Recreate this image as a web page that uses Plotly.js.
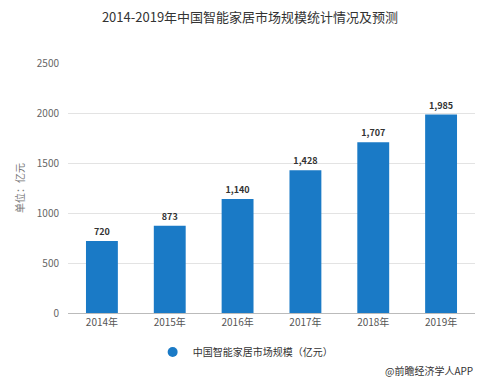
<!DOCTYPE html>
<html><head><meta charset="utf-8">
<script src="https://cdn.plot.ly/plotly-3.0.1.min.js"></script>
<style>body{margin:0;background:#fff}#c{width:500px;height:381px}</style>
</head><body><div id="c"></div>
<script>
const years = ["2014年","2015年","2016年","2017年","2018年","2019年"];
const marketSize = [720, 873, 1140, 1428, 1707, 1985];
const seriesName = "中国智能家居市场规模（亿元）";
const titleText = "2014-2019年中国智能家居市场规模统计情况及预测";
const yTitle = "单位：亿元";
const footer = "@前瞻经济学人APP";
const barColor = "#1a7ac6";
const F = "Noto Sans CJK SC, Microsoft YaHei, sans-serif";

const traces = [
  {type:"bar", x:years, y:marketSize, marker:{color:barColor}, showlegend:false,
   texttemplate:"%{y:,}", textposition:"outside", cliponaxis:false,
   textfont:{family:F, size:9, color:"#333", weight:"bold"}, hoverinfo:"none"},
  {type:"scatter", mode:"markers", x:[years[0]], y:[null], name:seriesName,
   marker:{color:barColor, size:10, symbol:"circle"}, showlegend:true}
];
const layout = {
  width:500, height:381,
  margin:{l:68, r:25, t:63, b:68},
  paper_bgcolor:"#fff", plot_bgcolor:"#fff",
  font:{family:F, color:"#666", size:10},
  title:{text:titleText, x:0.5, xanchor:"center", y:0.955, yanchor:"middle",
         font:{family:F, size:13, color:"#333"}},
  bargap:0.53,
  xaxis:{type:"category", showgrid:false, showline:true, linecolor:"#bbb", linewidth:1,
         ticks:"outside", ticklen:0, tickfont:{size:10, color:"#555"}, fixedrange:true},
  yaxis:{range:[0,2500], tick0:0, dtick:500, showgrid:true, gridcolor:"#e3e3e3",
         zeroline:false, showline:false, ticks:"", tickfont:{size:10, color:"#666"},
         ticklabelstandoff:8,
         title:{text:yTitle, font:{size:10, color:"#777"}, standoff:10}},
  legend:{orientation:"h", x:0.208, xanchor:"left", y:-0.156, yanchor:"middle",
          font:{size:10, color:"#333"}, itemwidth:30},
  annotations:[{text:footer, xref:"paper", yref:"paper", x:1.0, xanchor:"right",
                y:-0.228, yanchor:"middle", showarrow:false, font:{size:10, color:"#333"}}]
};
Plotly.newPlot("c", traces, layout, {displayModeBar:false, staticPlot:true});
</script></body></html>
